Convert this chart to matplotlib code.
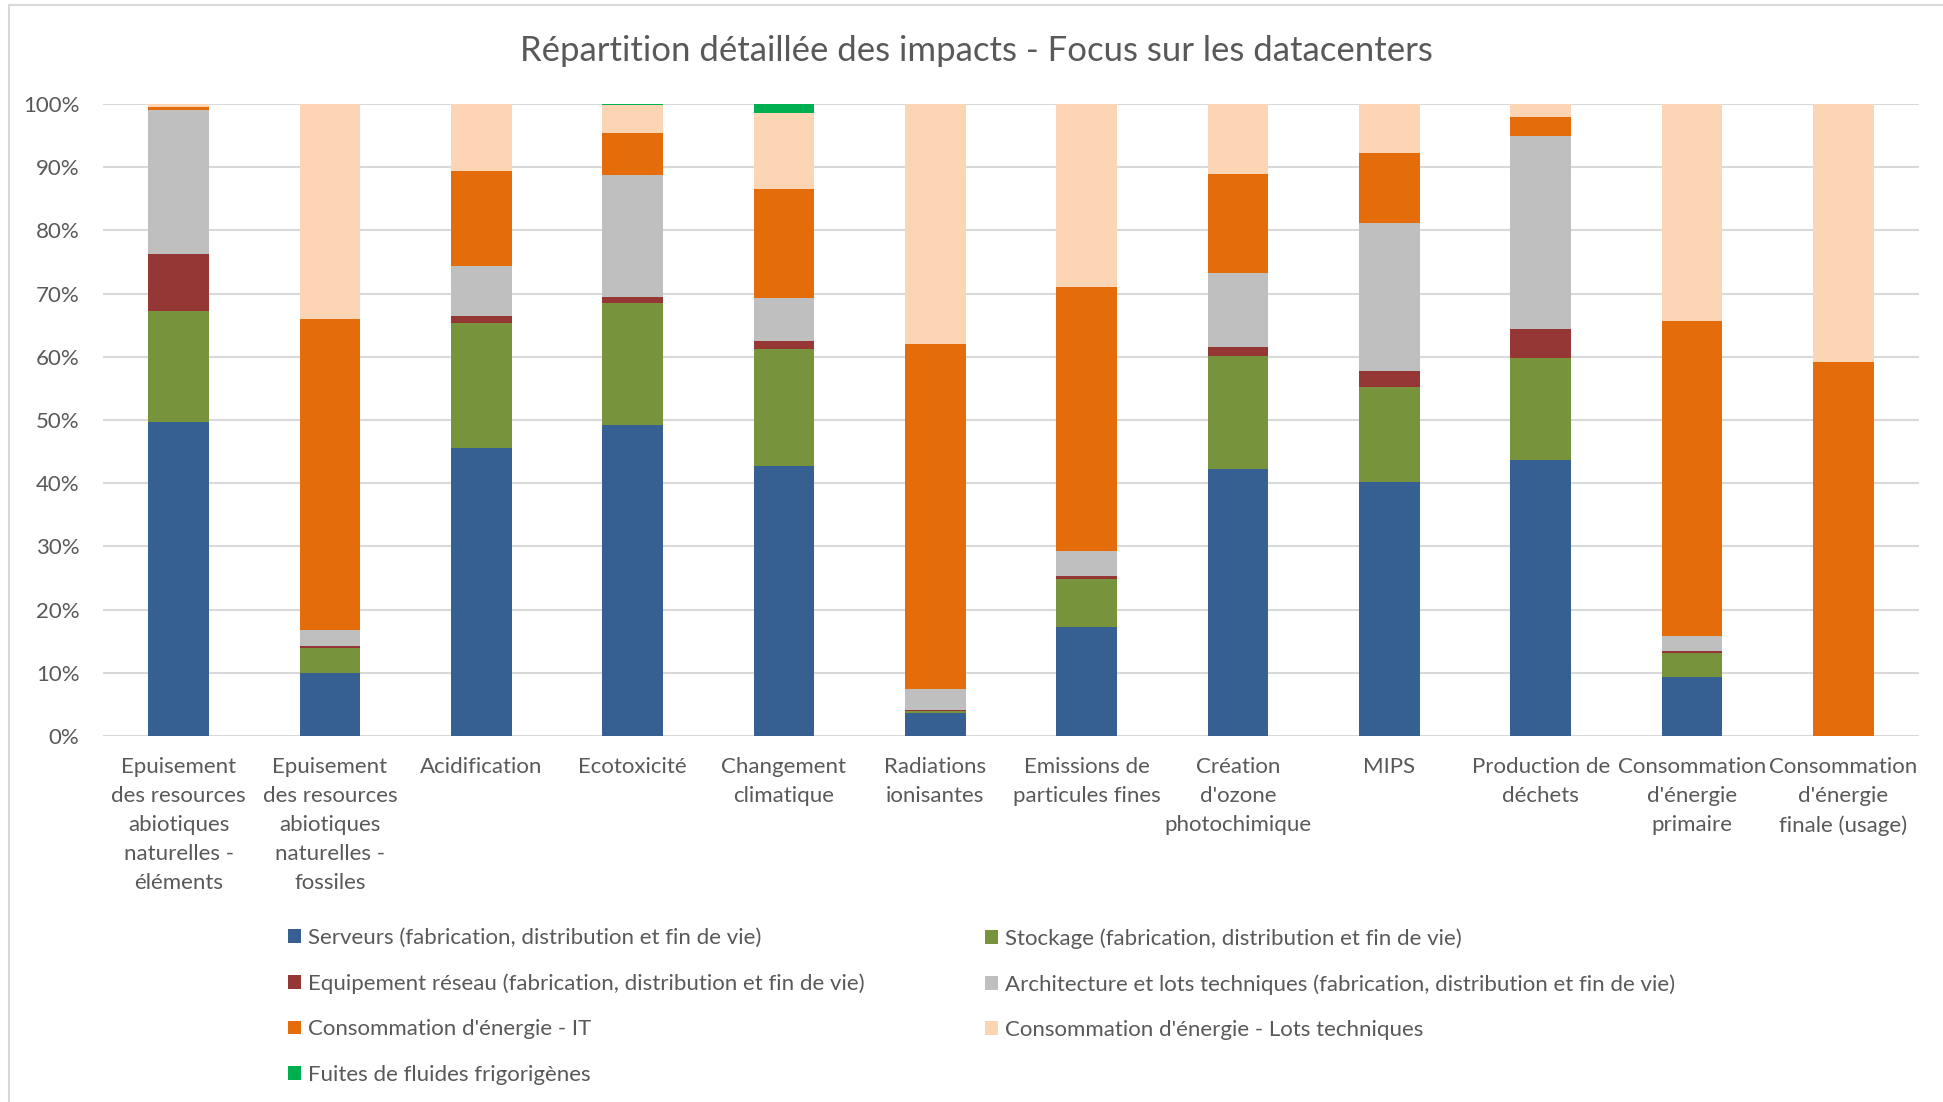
import numpy as np
import matplotlib
matplotlib.use("Agg")
import matplotlib.pyplot as plt
from matplotlib.patches import Patch

plt.rcParams['font.family'] = ['Lato', 'DejaVu Sans']

categories = [
    "Epuisement\ndes resources\nabiotiques\nnaturelles -\néléments",
    "Epuisement\ndes resources\nabiotiques\nnaturelles -\nfossiles",
    "Acidification",
    "Ecotoxicité",
    "Changement\nclimatique",
    "Radiations\nionisantes",
    "Emissions de\nparticules fines",
    "Création\nd'ozone\nphotochimique",
    "MIPS",
    "Production de\ndéchets",
    "Consommation\nd'énergie\nprimaire",
    "Consommation\nd'énergie\nfinale (usage)",
]

series_names = [
    "Serveurs (fabrication, distribution et fin de vie)",
    "Stockage (fabrication, distribution et fin de vie)",
    "Equipement réseau (fabrication, distribution et fin de vie)",
    "Architecture et lots techniques (fabrication, distribution et fin de vie)",
    "Consommation d'énergie - IT",
    "Consommation d'énergie - Lots techniques",
    "Fuites de fluides frigorigènes",
]

# parts en %
serveurs     = [49.7,  9.9, 45.6, 49.2, 42.8,  3.7, 17.3, 42.2, 40.2, 43.7,  9.4,  0.0]
stockage     = [17.5,  4.0, 19.7, 19.3, 18.4,  0.3,  7.5, 18.0, 15.1, 16.1,  3.8,  0.0]
reseau       = [ 9.1,  0.3,  1.2,  1.0,  1.3,  0.1,  0.5,  1.4,  2.5,  4.6,  0.2,  0.0]
architecture = [22.8,  2.6,  7.8, 19.2,  6.8,  3.3,  4.0, 11.7, 23.4, 30.5,  2.5,  0.0]
energie_it   = [ 0.4, 49.2, 15.1,  6.7, 17.3, 54.7, 41.7, 15.7, 11.1,  3.0, 49.7, 59.2]
energie_lt   = [ 0.5, 34.0, 10.6,  4.5, 12.0, 37.9, 29.0, 11.0,  7.7,  2.1, 34.4, 40.8]
fuites       = [ 0.0,  0.0,  0.0,  0.1,  1.4,  0.0,  0.0,  0.0,  0.0,  0.0,  0.0,  0.0]

colors = ["#366092", "#77933C", "#953735", "#BFBFBF", "#E46C0A", "#FCD5B5", "#00B050"]
txt = "#595959"

data = np.array([serveurs, stockage, reseau, architecture, energie_it, energie_lt, fuites])
data = data / data.sum(axis=0) * 100  # graphique 100% empilé

fig = plt.figure(figsize=(19.43, 11.02), dpi=100)
ax = fig.add_axes([103 / 1943, 366 / 1102, 1816 / 1943, 632 / 1102])

x = np.arange(len(categories))
bottom = np.zeros(len(categories))
for vals, col, name in zip(data, colors, series_names):
    ax.bar(x, vals, 0.40, bottom=bottom, color=col, label=name, zorder=3)
    bottom += vals

ax.set_xlim(-0.5, len(categories) - 0.5)
ax.set_ylim(0, 100)
ax.set_yticks(np.arange(0, 101, 10))
ax.set_yticklabels([f"{v}%" for v in range(0, 101, 10)])
ax.yaxis.grid(True, color="#D9D9D9", linewidth=1.5, zorder=0)
ax.set_axisbelow(True)
for s in ax.spines.values():
    s.set_visible(False)
ax.tick_params(axis="both", length=0, labelsize=16, colors=txt)
ax.tick_params(axis="y", pad=17)
ax.set_xticks(x)
ax.set_xticklabels(categories, linespacing=1.56)
ax.tick_params(axis="x", pad=15)

fig.text(0.5023, 1 - 51 / 1102, "Répartition détaillée des impacts - Focus sur les datacenters",
         ha="center", va="center", fontsize=25, color=txt)

# cadre du graphique (haut et gauche visibles)
fig.add_artist(plt.Line2D([9 / 1943, 9 / 1943], [0, 1 - 5 / 1102], transform=fig.transFigure,
                          color="#D9D9D9", lw=1.5))
fig.add_artist(plt.Line2D([9 / 1943, 1], [1 - 5 / 1102, 1 - 5 / 1102], transform=fig.transFigure,
                          color="#D9D9D9", lw=1.5))

handles = [Patch(facecolor=c, label=n) for c, n in zip(colors, series_names)]
leg_kw = dict(loc="upper left", frameon=False, fontsize=16, labelcolor=txt,
              handlelength=0.58, handleheight=0.58, handletextpad=0.3,
              borderpad=0, borderaxespad=0, labelspacing=1.14)
leg1 = fig.legend(handles=[handles[i] for i in (0, 2, 4, 6)],
                  bbox_to_anchor=(288 / 1943, 1 - 928 / 1102), **leg_kw)
leg2 = fig.legend(handles=[handles[i] for i in (1, 3, 5)],
                  bbox_to_anchor=(985 / 1943, 1 - 928 / 1102), **leg_kw)

fig.savefig("out.png", dpi=100)
